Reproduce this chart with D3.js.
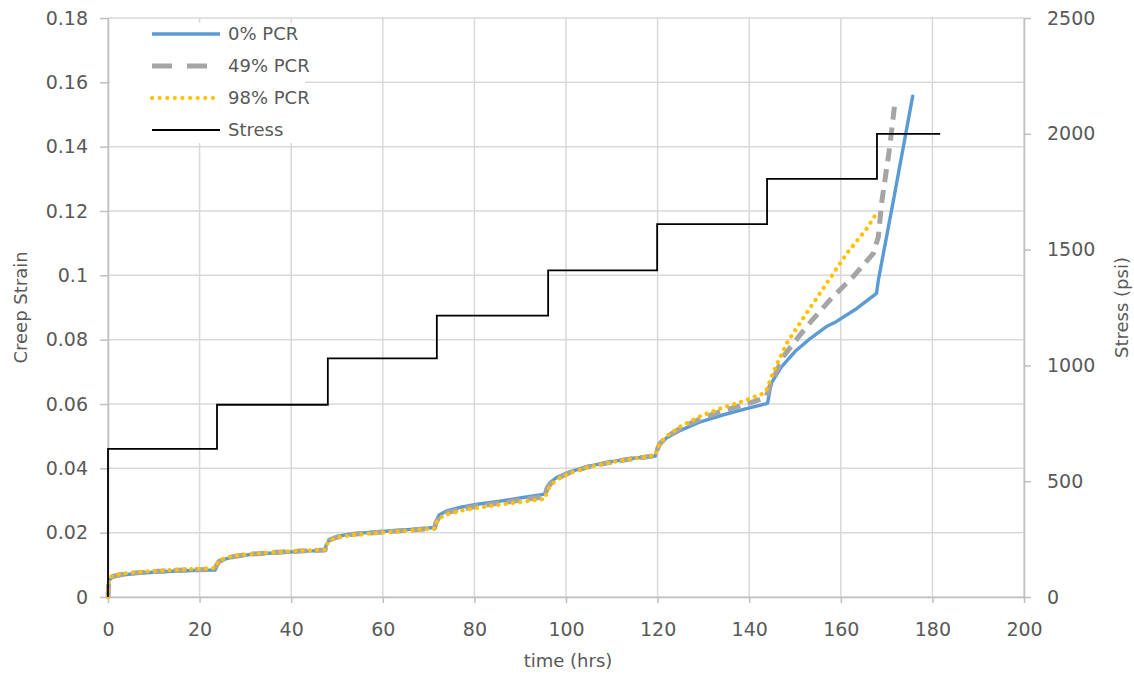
<!DOCTYPE html>
<html>
<head>
<meta charset="utf-8">
<script src="https://cdn.jsdelivr.net/npm/d3@7"></script>
<style>
  body { margin: 0; background: #fff; }
  text { font-family: "DejaVu Sans", sans-serif; fill: #595959; }
</style>
</head>
<body>
<div id="chart"></div>
<script>
// time (hrs) and creep strain for each mix
var time0 = [0, 0.2, 1, 3, 6, 10, 15, 20, 23.4, 23.6, 24.2, 25.5, 27.5, 31, 36, 42, 47.4, 47.6, 48.3, 50, 53, 57, 62, 67, 71.3, 71.6, 72.3, 74, 77, 81, 86, 91, 95.4, 95.7, 96.5, 98, 101, 105, 110, 115, 119.5, 119.8, 120.5, 122, 125, 129, 134, 139, 144, 144.8, 147, 150, 153, 157, 159, 163.5, 167.8, 168.2, 171.5, 175.7];
var strain0 = [0, 0.0052, 0.0062, 0.0068, 0.0073, 0.0077, 0.0081, 0.0083, 0.0084, 0.0095, 0.0108, 0.0118, 0.0125, 0.0132, 0.0137, 0.0142, 0.0145, 0.0160, 0.0178, 0.0188, 0.0196, 0.0201, 0.0206, 0.0211, 0.0216, 0.0235, 0.0255, 0.0268, 0.0279, 0.0289, 0.0299, 0.0310, 0.0320, 0.0338, 0.0356, 0.0372, 0.0390, 0.0407, 0.0421, 0.0432, 0.0438, 0.0455, 0.0475, 0.0495, 0.0518, 0.0543, 0.0565, 0.0584, 0.0602, 0.0664, 0.0715, 0.0763, 0.0800, 0.0842, 0.0856, 0.0897, 0.0944, 0.0985, 0.1234, 0.1557];

var time49 = [0, 0.2, 1, 3, 6, 10, 15, 20, 23.4, 23.6, 24.2, 25.5, 27.5, 31, 36, 42, 47.4, 47.6, 48.3, 50, 53, 57, 62, 67, 71.3, 71.6, 72.3, 74, 77, 81, 86, 91, 95.4, 95.7, 96.5, 98, 101, 105, 110, 115, 119.5, 119.8, 120.5, 122, 125, 129, 134, 139, 143.6, 144.5, 147.4, 152.5, 157.6, 162.7, 167.1, 168.2, 168.9, 170.7, 171.8];
var strain49 = [0, 0.0055, 0.0064, 0.0070, 0.0075, 0.0079, 0.0083, 0.0085, 0.0086, 0.0096, 0.0110, 0.0119, 0.0126, 0.0133, 0.0138, 0.0143, 0.0146, 0.0159, 0.0177, 0.0186, 0.0194, 0.0199, 0.0204, 0.0209, 0.0214, 0.0231, 0.0249, 0.0262, 0.0273, 0.0283, 0.0293, 0.0303, 0.0312, 0.0330, 0.0350, 0.0368, 0.0388, 0.0405, 0.0420, 0.0431, 0.0439, 0.0455, 0.0477, 0.0498, 0.0525, 0.0552, 0.0578, 0.0598, 0.0620, 0.0654, 0.0747, 0.0840, 0.0923, 0.0996, 0.1068, 0.1120, 0.1224, 0.1400, 0.1536];

var time98 = [0, 0.2, 1, 3, 6, 10, 15, 20, 23.4, 23.6, 24.2, 25.5, 27.5, 31, 36, 42, 47.4, 47.6, 48.3, 50, 53, 57, 62, 67, 71.3, 71.6, 72.3, 74, 77, 81, 86, 91, 95.4, 95.7, 96.5, 98, 101, 105, 110, 115, 119.5, 119.8, 120.5, 122, 125, 129, 134, 139, 143.1, 143.8, 145.3, 148.2, 152.5, 156.9, 161.3, 165.7, 167.8];
var strain98 = [0, 0.0058, 0.0066, 0.0072, 0.0077, 0.0081, 0.0085, 0.0088, 0.0090, 0.0098, 0.0112, 0.0121, 0.0128, 0.0134, 0.0139, 0.0144, 0.0147, 0.0158, 0.0176, 0.0185, 0.0192, 0.0197, 0.0203, 0.0208, 0.0213, 0.0228, 0.0245, 0.0257, 0.0268, 0.0278, 0.0288, 0.0297, 0.0305, 0.0322, 0.0345, 0.0365, 0.0386, 0.0404, 0.0419, 0.0431, 0.0440, 0.0455, 0.0478, 0.0500, 0.0530, 0.0560, 0.0588, 0.0610, 0.0633, 0.0645, 0.0700, 0.0789, 0.0882, 0.0975, 0.1068, 0.1146, 0.1193];

// stress steps (psi), each level starts at stepTime[i]
var stepTime = [0, 23.8, 48, 71.8, 96.1, 119.9, 143.9, 167.9, 181.7];
var stressLevel = [640, 830, 1030, 1215, 1410, 1610, 1805, 2000];

var xTicks = [0, 20, 40, 60, 80, 100, 120, 140, 160, 180, 200];
var yTicks = [0, 0.02, 0.04, 0.06, 0.08, 0.1, 0.12, 0.14, 0.16, 0.18];
var y2Ticks = [0, 500, 1000, 1500, 2000, 2500];

var seriesNames = ["0% PCR", "49% PCR", "98% PCR", "Stress"];

// set the dimensions and margins of the graph
var margin = {top: 18, right: 110, bottom: 78, left: 108},
    width = 1134 - margin.left - margin.right,
    height = 675 - margin.top - margin.bottom;

var x = d3.scaleLinear().domain([0, 200]).range([0, width]);
var y = d3.scaleLinear().domain([0, 0.18]).range([height, 0]);
var y2 = d3.scaleLinear().domain([0, 2500]).range([height, 0]);

var svg = d3.select("#chart").append("svg")
    .attr("width", 1134)
    .attr("height", 675)
  .append("g")
    .attr("transform", "translate(" + margin.left + "," + margin.top + ")");

// gridlines
svg.append("g").selectAll("line").data(yTicks).enter().append("line")
    .attr("x1", 0).attr("x2", width)
    .attr("y1", function(d) { return y(d); }).attr("y2", function(d) { return y(d); })
    .style("stroke", "#d9d9d9").style("stroke-width", 1.5);
svg.append("g").selectAll("line").data(xTicks).enter().append("line")
    .attr("x1", function(d) { return x(d); }).attr("x2", function(d) { return x(d); })
    .attr("y1", 0).attr("y2", height)
    .style("stroke", "#d9d9d9").style("stroke-width", 1.5);

// axes
function styleAxis(g) {
  g.select(".domain").style("stroke", "#bfbfbf").style("stroke-width", 1.5);
  g.selectAll(".tick line").style("stroke", "#bfbfbf").style("stroke-width", 1.5);
  g.selectAll(".tick text").style("font-size", "19px").style("fill", "#595959")
    .style("font-family", "DejaVu Sans");
}

svg.append("g")
    .attr("transform", "translate(0," + height + ")")
    .call(d3.axisBottom(x).tickValues(xTicks).tickSize(6).tickPadding(20).tickSizeOuter(0))
    .call(styleAxis);

svg.append("g")
    .call(d3.axisLeft(y).tickValues(yTicks).tickSize(8).tickPadding(12).tickSizeOuter(0)
      .tickFormat(function(d) { return String(+d.toFixed(2)); }))
    .call(styleAxis);

svg.append("g")
    .attr("transform", "translate(" + width + ",0)")
    .call(d3.axisRight(y2).tickValues(y2Ticks).tickSize(7).tickPadding(16).tickSizeOuter(0)
      .tickFormat(d3.format("d")))
    .call(styleAxis);

// strain lines
var line = d3.line()
    .x(function(d) { return x(d[0]); })
    .y(function(d) { return y(d[1]); });

var series = [
  {t: time0, s: strain0, color: "#5b9bd5", w: 3.4, dash: null, cap: "round"},
  {t: time49, s: strain49, color: "#a5a5a5", w: 5, dash: "13,8", cap: "butt"},
  {t: time98, s: strain98, color: "#ffc000", w: 4.2, dash: "0.1,7.2", cap: "round"}
];

series.forEach(function(sr) {
  svg.append("path")
      .datum(d3.zip(sr.t, sr.s))
      .attr("d", line)
      .style("fill", "none")
      .style("stroke", sr.color)
      .style("stroke-width", sr.w)
      .style("stroke-linecap", sr.cap)
      .style("stroke-linejoin", "round")
      .style("stroke-dasharray", sr.dash);
});

// stress step line
var stressPts = [[0, 0]];
stressLevel.forEach(function(v, i) { stressPts.push([stepTime[i], v]); });
stressPts.push([stepTime[stepTime.length - 1], stressLevel[stressLevel.length - 1]]);

svg.append("path")
    .datum(stressPts)
    .attr("d", d3.line().curve(d3.curveStepAfter)
      .x(function(d) { return x(d[0]); })
      .y(function(d) { return y2(d[1]); }))
    .style("fill", "none")
    .style("stroke", "#000")
    .style("stroke-width", 1.8);

// legend
var legend = svg.append("g");
legend.append("rect")
    .attr("x", 2).attr("y", 5).attr("width", 195).attr("height", 120)
    .style("fill", "#fff");
var legendStyle = [
  {color: "#5b9bd5", w: 3.4, dash: null, cap: "butt"},
  {color: "#a5a5a5", w: 5, dash: "20,15", cap: "butt"},
  {color: "#ffc000", w: 4.2, dash: "0.1,7.5", cap: "round"},
  {color: "#000", w: 1.8, dash: null, cap: "butt"}
];
seriesNames.forEach(function(name, i) {
  var yy = 16 + i * 32;
  legend.append("line")
      .attr("x1", 44).attr("x2", 112).attr("y1", yy).attr("y2", yy)
      .style("stroke", legendStyle[i].color)
      .style("stroke-width", legendStyle[i].w)
      .style("stroke-dasharray", legendStyle[i].dash)
      .style("stroke-linecap", legendStyle[i].cap);
  legend.append("text")
      .attr("x", 120).attr("y", yy).attr("dy", "0.35em")
      .style("font-size", "18px")
      .text(name);
});

// axis titles
svg.append("text")
    .attr("transform", "translate(" + (-81) + "," + (height / 2) + ") rotate(-90)")
    .attr("text-anchor", "middle")
    .style("font-size", "18px")
    .text("Creep Strain");

svg.append("text")
    .attr("transform", "translate(" + (width + 104) + "," + (height / 2) + ") rotate(-90)")
    .attr("text-anchor", "middle")
    .style("font-size", "18px")
    .text("Stress (psi)");

svg.append("text")
    .attr("x", width / 2 + 2)
    .attr("y", height + 70)
    .attr("text-anchor", "middle")
    .style("font-size", "18px")
    .text("time (hrs)");
</script>
</body>
</html>
